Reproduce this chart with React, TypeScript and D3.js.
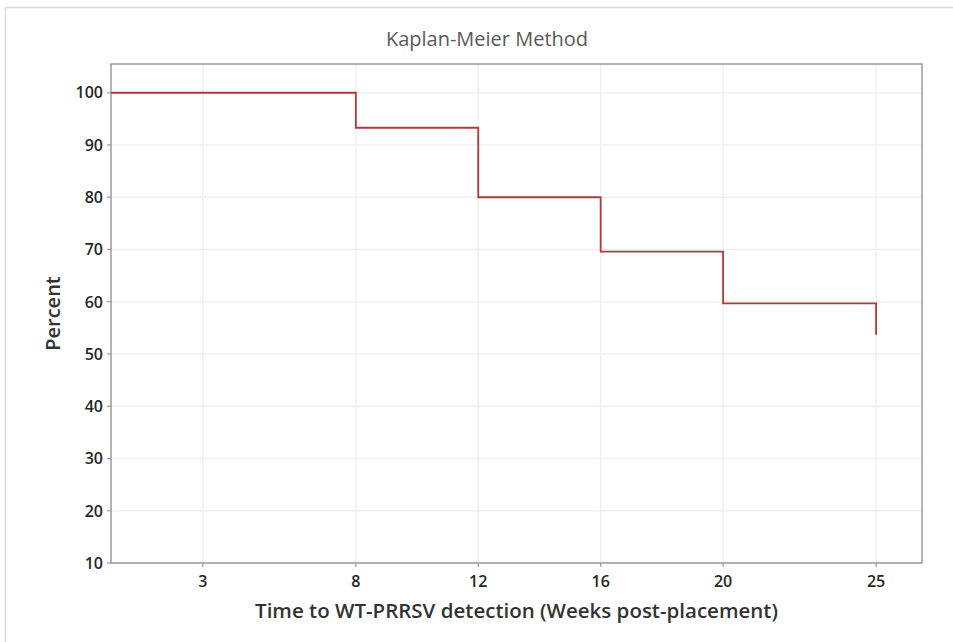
import React from "react";
import * as d3 from "d3";

const stepTimes = [0, 8, 12, 16, 20, 25];
const survival = [100, 93.3, 80, 69.6, 59.7, 53.7];
const xTicks = [3, 8, 12, 16, 20, 25];
const yTicks = [10, 20, 30, 40, 50, 60, 70, 80, 90, 100];
const title = "Kaplan-Meier Method";
const xLabel = "Time to WT-PRRSV detection (Weeks post-placement)";
const yLabel = "Percent";

const W = 953;
const H = 642;
const m = { left: 111, right: 922, top: 64, bottom: 563 };
const FONT = "'Open Sans', 'Noto Sans', sans-serif";

export default function App() {
  const x = d3.scaleLinear().domain([0, 26.5]).range([m.left, m.right]);
  const y = d3.scaleLinear().domain([10, 105.5]).range([m.bottom, m.top]);

  const pts: [number, number][] = [];
  for (let i = 0; i < stepTimes.length; i++) {
    if (i > 0) pts.push([stepTimes[i], survival[i - 1]]);
    pts.push([stepTimes[i], survival[i]]);
  }
  const line = d3
    .line<[number, number]>()
    .x((d) => x(d[0]))
    .y((d) => y(d[1]));

  return (
    <svg
      width={W}
      height={H}
      style={{ position: "absolute", left: 0, top: 0, background: "#fff" }}
      fontFamily={FONT}
    >
      <rect x={5.5} y={7.5} width={W + 10} height={H + 10} fill="none" stroke="#dcdcdc" strokeWidth={1.5} />
      <text x={487} y={46} textAnchor="middle" fontSize={20} fill="#595959">
        {title}
      </text>
      {xTicks.map((t) => (
        <line key={"gx" + t} x1={x(t)} x2={x(t)} y1={m.top} y2={m.bottom} stroke="#f0f0f0" strokeWidth={1.5} />
      ))}
      {yTicks.map((t) => (
        <line key={"gy" + t} x1={m.left} x2={m.right} y1={y(t)} y2={y(t)} stroke="#f0f0f0" strokeWidth={1.5} />
      ))}
      <rect x={m.left} y={m.top} width={m.right - m.left} height={m.bottom - m.top} fill="none" stroke="#9a9a9a" strokeWidth={1.5} />
      {yTicks.map((t) => (
        <g key={"ty" + t}>
          <line x1={m.left - 4} x2={m.left} y1={y(t)} y2={y(t)} stroke="#9a9a9a" strokeWidth={1.2} />
          <text x={m.left - 8} y={y(t)} dy="0.36em" textAnchor="end" fontSize={16} fontWeight={600} fill="#262626">
            {t}
          </text>
        </g>
      ))}
      {xTicks.map((t) => (
        <g key={"tx" + t}>
          <line x1={x(t)} x2={x(t)} y1={m.bottom} y2={m.bottom + 4} stroke="#9a9a9a" strokeWidth={1.2} />
          <text x={x(t)} y={m.bottom + 24} textAnchor="middle" fontSize={16} fontWeight={600} fill="#262626">
            {t}
          </text>
        </g>
      ))}
      <path d={line(pts) || ""} fill="none" stroke="#b03a3a" strokeWidth={1.8} />
      <text x={(m.left + m.right) / 2} y={618} textAnchor="middle" fontSize={20.5} fontWeight={600} fill="#333">
        {xLabel}
      </text>
      <text
        transform={`translate(60, ${(m.top + m.bottom) / 2}) rotate(-90)`}
        textAnchor="middle"
        fontSize={20}
        fontWeight={600}
        fill="#333"
      >
        {yLabel}
      </text>
    </svg>
  );
}
